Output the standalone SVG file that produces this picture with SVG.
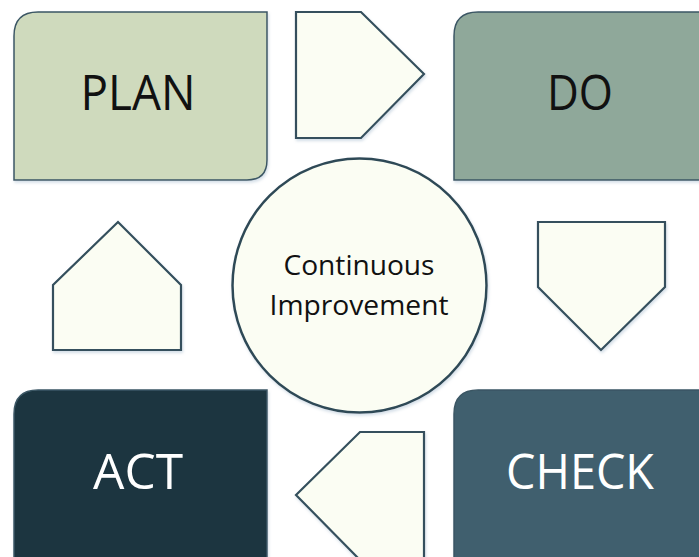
<svg xmlns="http://www.w3.org/2000/svg" width="699" height="557" viewBox="0 0 699 557">
  <style>
    .box { stroke: #3b5664; stroke-width: 1.5; filter: url(#shade); }
    .arrow { fill: #fbfdf3; stroke: #34505d; stroke-width: 2.2; stroke-linejoin: miter; filter: url(#shade); }
    .hub { fill: #fbfdf3; stroke: #2f4a57; stroke-width: 2.5; filter: url(#shade); }
    .big { font-family: "Open Sans", "Noto Sans", "Liberation Sans", sans-serif; font-size: 49px; text-anchor: middle; }
    .small { font-family: "Open Sans", "Noto Sans", "Liberation Sans", sans-serif; font-size: 27.5px; text-anchor: middle; fill: #111111; }
  </style>
  <defs>
    <filter id="shade" x="-10%" y="-10%" width="120%" height="120%">
      <feDropShadow dx="1" dy="2" stdDeviation="1.5" flood-color="#9fb6cc" flood-opacity="0.45"/>
    </filter>
  </defs>
  <rect width="699" height="557" fill="#ffffff"/>

  <!-- cycle arrows between the stages -->
  <g id="connectors">
    <polygon class="arrow" points="296,12 361,12 424,74 361,138 296,138"/>
    <polygon class="arrow" points="538,222 665,222 665,287 601,350 538,287"/>
    <polygon class="arrow" points="424,432 424,560 360,560 296,495 360,432"/>
    <polygon class="arrow" points="53,350 53,285 118,222 181,285 181,350"/>
  </g>

  <g id="plan">
    <path class="box" fill="#cfdabd" d="M14,36 Q14,12 38,12 H267 V160 Q267,180 247,180 H14 Z"/>
    <text class="big" x="138" y="110" fill="#111111" textLength="115" lengthAdjust="spacingAndGlyphs">PLAN</text>
  </g>

  <g id="do">
    <path class="box" fill="#8fa89a" d="M454,36 Q454,12 478,12 H702 V180 H454 Z"/>
    <text class="big" x="580" y="110" fill="#111111" textLength="66" lengthAdjust="spacingAndGlyphs">DO</text>
  </g>

  <g id="act">
    <path class="box" fill="#1b3440" d="M14,414 Q14,390 38,390 H267 V560 H14 Z"/>
    <text class="big" x="138" y="489" fill="#ffffff" textLength="90" lengthAdjust="spacingAndGlyphs">ACT</text>
  </g>

  <g id="check">
    <path class="box" fill="#3f5f6e" d="M454,414 Q454,390 478,390 H702 V560 H454 Z"/>
    <text class="big" x="580" y="489" fill="#ffffff" textLength="148" lengthAdjust="spacingAndGlyphs">CHECK</text>
  </g>

  <g id="improvement">
    <circle class="hub" cx="359.5" cy="285.5" r="127"/>
    <text class="small" x="359" y="275" textLength="151" lengthAdjust="spacingAndGlyphs">Continuous</text>
    <text class="small" x="359" y="315" textLength="179" lengthAdjust="spacingAndGlyphs">Improvement</text>
  </g>
</svg>
